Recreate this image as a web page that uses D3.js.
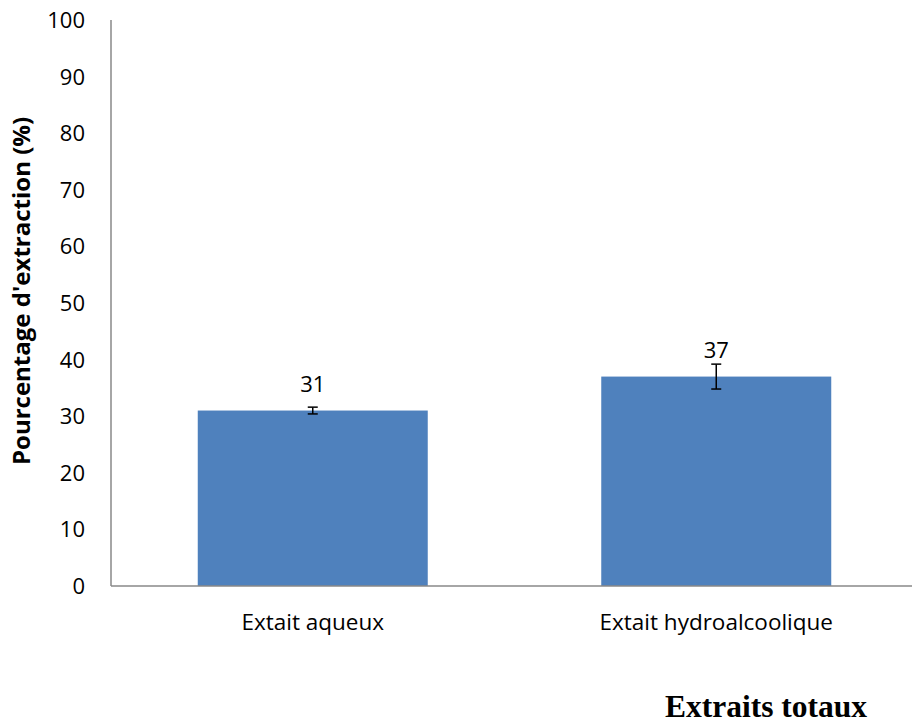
<!DOCTYPE html>
<html><head><meta charset="utf-8">
<script src="https://cdn.jsdelivr.net/npm/d3@7"></script>
<style>body{margin:0;background:#fff}</style>
</head><body>
<svg id="c" width="912" height="724"></svg>
<script>
const categories = ["Extait aqueux", "Extait hydroalcoolique"];
const values = [31, 37];
const errors = [0.6, 2.2];
const yTicks = [0,10,20,30,40,50,60,70,80,90,100];

const svg = d3.select("#c");
const x0 = 111, x1 = 918, yTop = 20, yBot = 586;
const x = d3.scaleBand().domain(categories).range([x0, x1]).paddingInner(0.43).paddingOuter(0.215);
const y = d3.scaleLinear().domain([0,100]).range([yBot, yTop]);
const font = "'Open Sans', 'Noto Sans', sans-serif";

svg.selectAll("rect.bar").data(values).enter().append("rect")
  .attr("x",(d,i)=>x(categories[i])).attr("width",x.bandwidth())
  .attr("y",d=>y(d)).attr("height",d=>y(0)-y(d)).attr("fill","#4F81BD");

svg.append("line").attr("x1",x0).attr("x2",x0).attr("y1",y(100)).attr("y2",y(0)).attr("stroke","#898989").attr("stroke-width",1.5);
svg.append("line").attr("x1",x0).attr("x2",912).attr("y1",y(0)).attr("y2",y(0)).attr("stroke","#898989").attr("stroke-width",1.5);

svg.selectAll("text.yt").data(yTicks).enter().append("text")
  .attr("x",x0-26).attr("y",d=>y(d)).attr("dy","0.36em").attr("text-anchor","end")
  .attr("font-family",font).attr("font-size",22).attr("fill","#000").text(d=>d);

svg.selectAll("text.xt").data(categories).enter().append("text")
  .attr("x",d=>x(d)+x.bandwidth()/2).attr("y",630).attr("text-anchor","middle")
  .attr("font-family",font).attr("font-size",22.5).attr("fill","#000").text(d=>d);

const eb = svg.selectAll("g.eb").data(values).enter().append("g");
eb.append("line").attr("x1",(d,i)=>x(categories[i])+x.bandwidth()/2).attr("x2",(d,i)=>x(categories[i])+x.bandwidth()/2)
  .attr("y1",(d,i)=>y(d+errors[i])).attr("y2",(d,i)=>y(d-errors[i])).attr("stroke","#000").attr("stroke-width",1.5);
[1,-1].forEach(s=>{
  eb.append("line").attr("x1",(d,i)=>x(categories[i])+x.bandwidth()/2-5).attr("x2",(d,i)=>x(categories[i])+x.bandwidth()/2+5)
    .attr("y1",(d,i)=>y(d+s*errors[i])).attr("y2",(d,i)=>y(d+s*errors[i])).attr("stroke","#000").attr("stroke-width",1.5);
});

svg.selectAll("text.vl").data(values).enter().append("text")
  .attr("x",(d,i)=>x(categories[i])+x.bandwidth()/2).attr("y",d=>y(d)-18.5)
  .attr("text-anchor","middle").attr("font-family",font).attr("font-size",22).attr("fill","#000").text(d=>d);

svg.append("text").attr("transform","translate(30,291) rotate(-90)").attr("text-anchor","middle")
  .attr("font-family",font).attr("font-weight","bold").attr("font-size",24).text("Pourcentage d'extraction (%)");

svg.append("text").attr("x",766).attr("y",717).attr("text-anchor","middle")
  .attr("font-family","'Liberation Serif', 'Times New Roman', serif").attr("font-weight","bold").attr("font-size",31.5).text("Extraits totaux");
</script>
</body></html>
